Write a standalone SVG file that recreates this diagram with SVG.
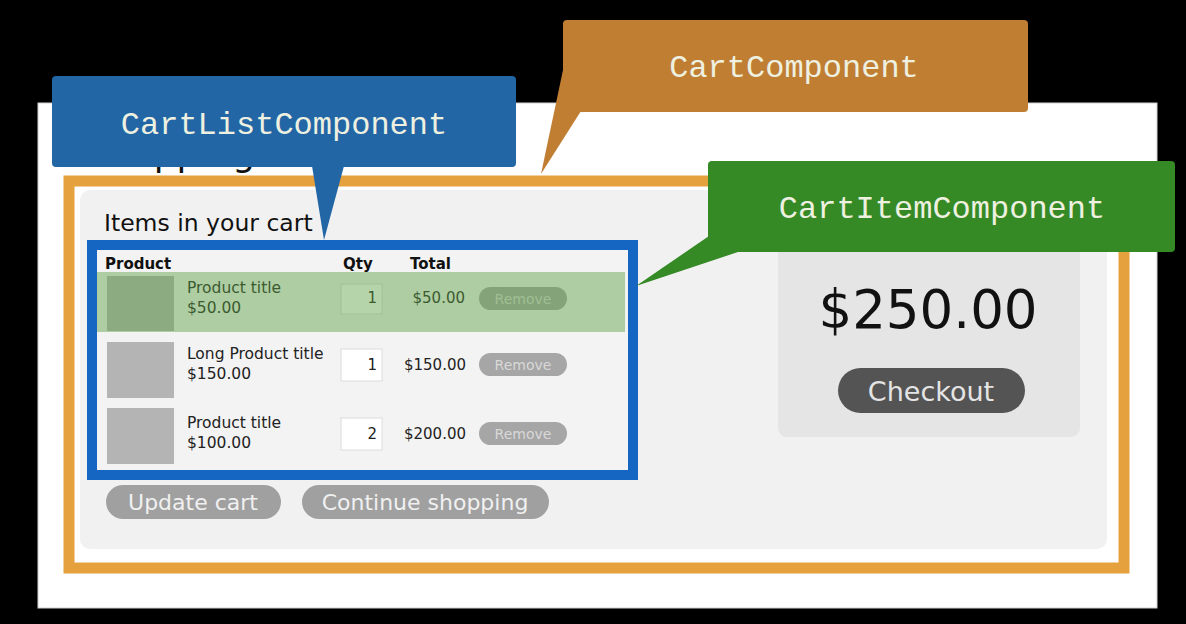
<svg xmlns="http://www.w3.org/2000/svg" width="1186" height="624" viewBox="0 0 1186 624">
<style>
.sans{font-family:"DejaVu Sans","Noto Sans",sans-serif}
.mono{font-family:"Liberation Mono","DejaVu Sans Mono",monospace;font-size:32px;fill:#eef0e0;text-anchor:middle}
.hdr{font-family:"DejaVu Sans",sans-serif;font-size:15px;font-weight:bold;fill:#111}
.txt{font-family:"DejaVu Sans",sans-serif;font-size:15.5px;fill:#222}
.num{font-family:"DejaVu Sans",sans-serif;font-size:15px;fill:#222;text-anchor:end}
.thumb{fill:#b4b4b4}
.qty{fill:#fff;stroke:#dcdcdc;stroke-width:1}
.rm{fill:#a6a6a6}
.rmt{font-family:"DejaVu Sans",sans-serif;font-size:14px;fill:#d8d8d8;text-anchor:middle}
.btn{fill:#a0a0a0}
.btnt{font-family:"DejaVu Sans",sans-serif;font-size:22px;fill:#f0f0f0;text-anchor:middle}
</style>
<rect x="0" y="0" width="1186" height="624" fill="#000"/>
<g id="page">
<rect x="38" y="103" width="1119" height="505" fill="#fff" stroke="#cfcfcf" stroke-width="1"/>
<text class="sans" x="86" y="166" font-size="36" fill="#111">Shopping cart</text>
</g>
<g id="cart-component-frame">
<rect x="69" y="181" width="1055" height="387" fill="none" stroke="#e6a13f" stroke-width="11"/>
<rect x="80" y="190" width="1027" height="359" rx="10" fill="#f1f1f1"/>
<text class="sans" x="104" y="231" font-size="23.5" fill="#111">Items in your cart</text>
</g>
<g id="cart-list">
<rect x="92" y="245" width="541" height="230" fill="#f3f3f3" stroke="#1565c2" stroke-width="10"/>
<text class="hdr" x="105" y="269">Product</text>
<text class="hdr" x="343" y="269">Qty</text>
<text class="hdr" x="410" y="269">Total</text>
</g>
<g id="item-1">
<rect class="thumb" x="107" y="276" width="67" height="55"/>
<text class="txt" x="187" y="293">Product title</text>
<text class="txt" x="187" y="313">$50.00</text>
<rect class="qty" x="341" y="284" width="41" height="30"/>
<text class="num" x="377" y="303">1</text>
<text class="num" x="465" y="303">$50.00</text>
<rect class="rm" x="479" y="287" width="88" height="23" rx="11.5"/>
<text class="rmt" x="523" y="304">Remove</text>
<rect x="97" y="272" width="528" height="60" fill="#5aa040" fill-opacity="0.45"/>
</g>
<g id="item-2">
<rect class="thumb" x="107" y="342" width="67" height="56"/>
<text class="txt" x="187" y="359">Long Product title</text>
<text class="txt" x="187" y="379">$150.00</text>
<rect class="qty" x="341" y="349" width="41" height="32"/>
<text class="num" x="377" y="370">1</text>
<text class="num" x="466" y="370">$150.00</text>
<rect class="rm" x="479" y="353" width="88" height="23" rx="11.5"/>
<text class="rmt" x="523" y="370">Remove</text>
</g>
<g id="item-3">
<rect class="thumb" x="107" y="408" width="67" height="56"/>
<text class="txt" x="187" y="428">Product title</text>
<text class="txt" x="187" y="448">$100.00</text>
<rect class="qty" x="341" y="418" width="41" height="32"/>
<text class="num" x="377" y="439">2</text>
<text class="num" x="466" y="439">$200.00</text>
<rect class="rm" x="479" y="422" width="88" height="23" rx="11.5"/>
<text class="rmt" x="523" y="439">Remove</text>
</g>
<g id="cart-actions">
<rect class="btn" x="106" y="485" width="175" height="34" rx="17"/>
<text class="btnt" x="193" y="510">Update cart</text>
<rect class="btn" x="302" y="485" width="247" height="34" rx="17"/>
<text class="btnt" x="425" y="510">Continue shopping</text>
</g>
<g id="summary">
<rect x="778" y="236" width="302" height="201" rx="9" fill="#e5e5e5"/>
<text class="sans" x="928" y="328" font-size="53" fill="#111" text-anchor="middle">$250.00</text>
<rect x="838" y="368" width="187" height="45" rx="22.5" fill="#545454"/>
<text class="sans" x="931" y="401" font-size="27" fill="#e4e4e4" text-anchor="middle">Checkout</text>
</g>
<g id="connectors">
<polygon points="312,166 344,166 324,240" fill="#2266a6"/>
<polygon points="563,70 541,174 581,111" fill="#c07e33"/>
<polygon points="709,236 636,286 741,251" fill="#358a25"/>
</g>
<g id="callout-cart-list">
<rect x="52" y="76" width="464" height="91" rx="4" fill="#2266a6"/>
<text class="mono" x="284" y="134">CartListComponent</text>
</g>
<g id="callout-cart">
<rect x="563" y="20" width="465" height="92" rx="4" fill="#c07e33"/>
<text class="mono" x="794" y="77">CartComponent</text>
</g>
<g id="callout-cart-item">
<rect x="708" y="161" width="467" height="91" rx="4" fill="#358a25"/>
<text class="mono" x="942" y="218">CartItemComponent</text>
</g>
</svg>
